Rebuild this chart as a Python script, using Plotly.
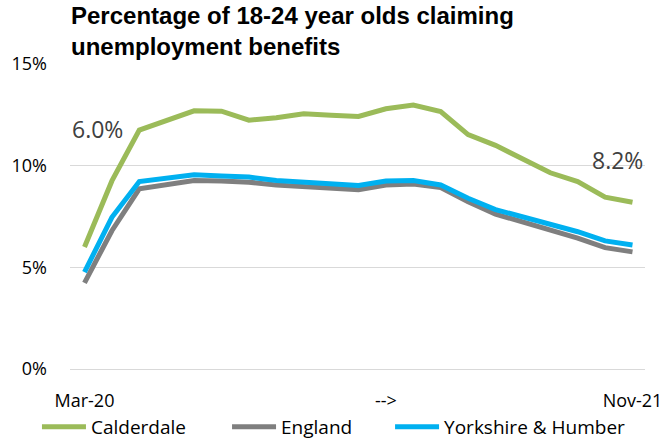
import plotly.graph_objects as go

# Monthly claimant rate, 18-24 year olds, Mar-20 to Nov-21
months = ["Mar-20", "Apr-20", "May-20", "Jun-20", "Jul-20", "Aug-20", "Sep-20",
          "Oct-20", "Nov-20", "Dec-20", "Jan-21", "Feb-21", "Mar-21", "Apr-21",
          "May-21", "Jun-21", "Jul-21", "Aug-21", "Sep-21", "Oct-21", "Nov-21"]

calderdale = [6.0, 9.25, 11.75, 12.2, 12.7, 12.68, 12.24, 12.36, 12.55, 12.48, 12.42,
              12.8, 12.98, 12.66, 11.53, 11.0, 10.3, 9.65, 9.22, 8.45, 8.2]
england = [4.24, 6.8, 8.86, 9.05, 9.27, 9.25, 9.19, 9.05, 8.98, 8.9, 8.82,
           9.05, 9.1, 8.92, 8.22, 7.62, 7.24, 6.85, 6.44, 5.97, 5.76]
yorkshire = [4.77, 7.46, 9.22, 9.36, 9.55, 9.49, 9.44, 9.27, 9.19, 9.08, 9.03,
             9.25, 9.27, 9.05, 8.4, 7.84, 7.49, 7.13, 6.75, 6.3, 6.1]

tick_positions = ["Mar-20", "Feb-21", "Nov-21"]
tick_labels = ["Mar-20", "-->", "Nov-21"]

y_ticks = [0, 5, 10, 15]
y_tick_labels = [f"{v}%" for v in y_ticks]

# name, values, colour, legend id, legend left edge (fraction of page width)
series = [
    ("Calderdale", calderdale, "#9BBB59", "legend", 0.056),
    ("England", england, "#7F7F7F", "legend2", 0.344),
    ("Yorkshire & Humber", yorkshire, "#00B0F0", "legend3", 0.591),
]

fig = go.Figure()
legend_layout = {}
for name, vals, color, leg, leg_x in series:
    fig.add_trace(go.Scatter(
        x=months, y=vals, name=name, mode="lines", legend=leg,
        line=dict(color=color, width=5),
    ))
    legend_layout[leg] = dict(
        orientation="h", x=leg_x, xanchor="left", xref="container",
        y=0.03, yanchor="middle", yref="container",
        font=dict(size=19), itemwidth=44,
        bgcolor="rgba(0,0,0,0)",
    )

font_family = "Open Sans, Liberation Sans, Arial, sans-serif"

fig.update_layout(
    width=660, height=440,
    margin=dict(l=70, r=15, t=64, b=71),
    paper_bgcolor="white", plot_bgcolor="white",
    font=dict(family=font_family, size=18, color="#000000"),
    showlegend=True,
    **legend_layout,
)

fig.update_xaxes(
    type="category", categoryorder="array", categoryarray=months,
    tickmode="array", tickvals=tick_positions, ticktext=tick_labels,
    showgrid=False, showline=False, zeroline=False, ticks="",
    ticklabelstandoff=19, tickfont=dict(size=18), automargin=False,
)
fig.update_yaxes(
    range=[0, 15], tickmode="array", tickvals=y_ticks, ticktext=y_tick_labels,
    showgrid=True, gridcolor="#D9D9D9", gridwidth=1,
    zeroline=True, zerolinecolor="#D9D9D9", zerolinewidth=1,
    showline=False, ticks="", ticklabelstandoff=22, tickfont=dict(size=18),
    automargin=False,
)

# Two-line bold chart title
fig.add_annotation(
    x=0, y=1.21, xref="paper", yref="paper", xanchor="left", yanchor="top",
    xshift=-1, align="left", showarrow=False,
    text="<b>Percentage of 18-24 year olds claiming<br>unemployment benefits</b>",
    font=dict(size=24, family="Liberation Sans, Arial, sans-serif", color="#000000"),
)

# End-point value labels
fig.add_annotation(
    x=months[0], y=11.8, xref="x", yref="y",
    text=f"{calderdale[0]:.1f}%", showarrow=False, xshift=13,
    font=dict(size=23, color="#404040"),
)
fig.add_annotation(
    x=months[-1], y=10.3, xref="x", yref="y",
    text=f"{calderdale[-1]:.1f}%", showarrow=False, xshift=-15,
    font=dict(size=23, color="#404040"),
)

fig.write_html("out.html")
